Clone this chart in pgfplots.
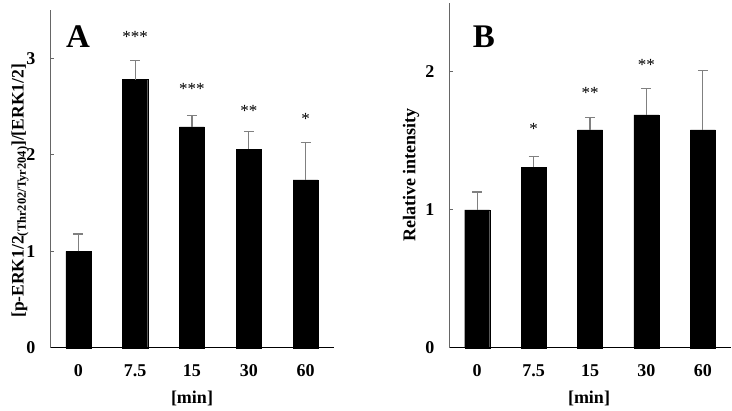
\documentclass[border=0pt]{standalone}
\usepackage{pgfplots}
\pgfplotsset{compat=1.18}
\usepackage{fontspec}
\setmainfont{Liberation Serif}
\begin{document}
\begin{tikzpicture}
\useasboundingbox (0pt,0pt) rectangle (732pt,411pt);
\pgfplotsset{
  panel/.style={
    scale only axis,
    axis x line=bottom, axis y line=left,
    x axis line style={black, line width=1pt, -},
    y axis line style={black!60, line width=1pt, -},
    xmin=-0.5, xmax=4.5, ymin=0,
    xtick={0,1,2,3,4},
    xticklabels={0,7.5,15,30,60},
    x tick style={draw=none},
    y tick style={black!60, line width=1pt},
    tick align=inside,
    major tick length=4pt,
    /pgf/number format/assume math mode=true,
    ticklabel style={font=\fontsize{18}{21}\selectfont\bfseries},
    xticklabel style={yshift=-9pt},
    yticklabel style={xshift=-11pt},
    ybar, bar width=25pt,
    clip=false,
  },
  bars/.style={fill=black, draw=black, bar shift=0pt,
    error bars/.cd, y dir=plus, y explicit,
    error bar style={black!50, line width=1.2pt},
    error mark options={rotate=90, black!50, line width=1.2pt, mark size=5pt}},
}
% Panel A
\begin{axis}[panel, at={(50pt,63pt)}, anchor=south west,
  width=284pt, height=338pt, ymax=3.5, ytick={0,1,2,3}]
\addplot[bars] coordinates {
  (0,1.00) +- (0,0.18)
  (1,2.78) +- (0,0.20)
  (2,2.29) +- (0,0.12)
  (3,2.06) +- (0,0.18)
  (4,1.74) +- (0,0.39)
};
\node[font=\fontsize{17}{20}\selectfont] at (axis cs:1,3.22) {***};
\node[font=\fontsize{17}{20}\selectfont] at (axis cs:2,2.68) {***};
\node[font=\fontsize{17}{20}\selectfont] at (axis cs:3,2.45) {**};
\node[font=\fontsize{17}{20}\selectfont] at (axis cs:4,2.37) {*};
\end{axis}
% Panel B
\begin{axis}[panel, at={(449pt,63pt)}, anchor=south west,
  width=282pt, height=345pt, ymax=2.5, ytick={0,1,2}]
\addplot[bars] coordinates {
  (0,1.00) +- (0,0.13)
  (1,1.31) +- (0,0.08)
  (2,1.58) +- (0,0.09)
  (3,1.69) +- (0,0.19)
  (4,1.58) +- (0,0.43)
};
\node[font=\fontsize{17}{20}\selectfont] at (axis cs:1,1.59) {*};
\node[font=\fontsize{17}{20}\selectfont] at (axis cs:2,1.85) {**};
\node[font=\fontsize{17}{20}\selectfont] at (axis cs:3,2.05) {**};
\end{axis}
% labels
\node[font=\fontsize{33}{36}\selectfont\bfseries] at (78pt,374pt) {A};
\node[font=\fontsize{33}{36}\selectfont\bfseries] at (484pt,374pt) {B};
\node[font=\fontsize{18}{21}\selectfont\bfseries] at (192pt,13pt) {[min]};
\node[font=\fontsize{18}{21}\selectfont\bfseries] at (589pt,13pt) {[min]};
\node[rotate=90, font=\fontsize{17.5}{20}\selectfont\bfseries] at (20pt,220pt)
  {[p-ERK1/2\raisebox{-0.3ex}{\fontsize{12.5}{13}\selectfont(Thr202/Tyr204)}]/[ERK1/2]};
\node[rotate=90, font=\fontsize{18}{21}\selectfont\bfseries] at (411pt,236pt)
  {Relative intensity};
\end{tikzpicture}
\end{document}
